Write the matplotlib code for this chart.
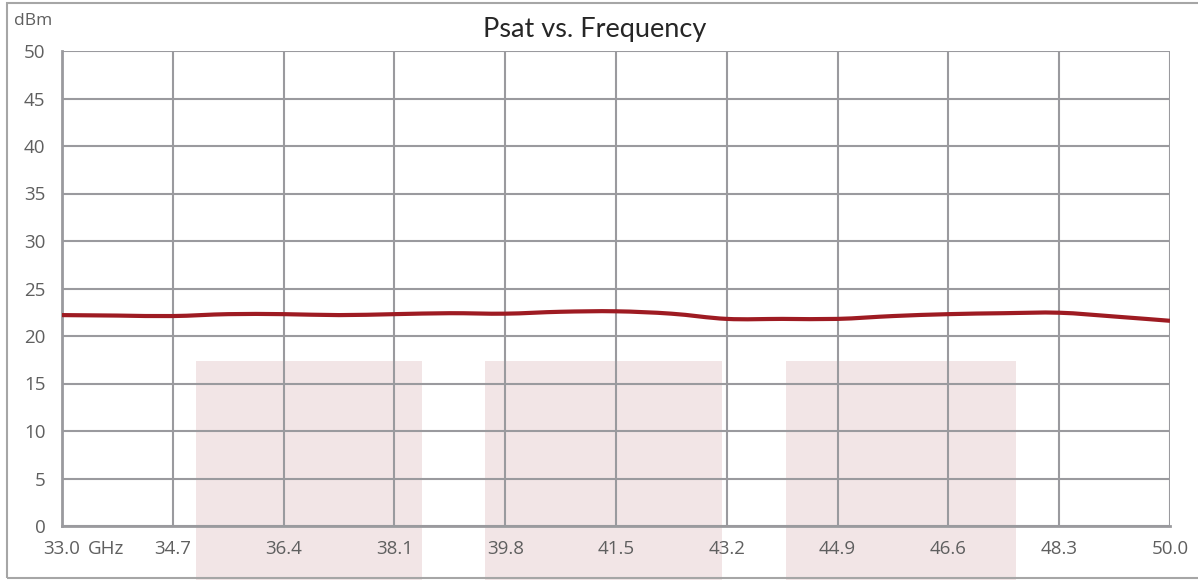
import numpy as np
import matplotlib.pyplot as plt
from matplotlib.patches import Rectangle, PathPatch
from matplotlib.path import Path

# Datos
freq = [33.0, 33.85, 34.7, 35.55, 36.4, 37.25, 38.1, 38.95, 39.8, 40.65, 41.5,
        42.35, 43.2, 44.05, 44.9, 45.75, 46.6, 47.45, 48.3, 49.15, 50.0]
psat = [22.2, 22.15, 22.1, 22.3, 22.3, 22.2, 22.3, 22.4, 22.35, 22.55, 22.6,
        22.35, 21.8, 21.8, 21.8, 22.1, 22.3, 22.4, 22.45, 22.05, 21.6]

xticks = [33.0, 34.7, 36.4, 38.1, 39.8, 41.5, 43.2, 44.9, 46.6, 48.3, 50.0]
xlabels = ['33.0', '34.7', '36.4', '38.1', '39.8', '41.5', '43.2', '44.9', '46.6', '48.3', '50.0']
yticks = [0, 5, 10, 15, 20, 25, 30, 35, 40, 45, 50]

# bandas rosadas (inicio, fin, altura)
bandas_ini = [35.06, 39.49, 44.11]
bandas_fin = [38.52, 43.13, 47.64]
banda_alto = 17.4

gris = '#9a9a9e'
texto = '#5f5f5f'

plt.rcParams['font.family'] = ['Open Sans', 'DejaVu Sans']


# Linea suavizada tipo Excel: curvas Bezier que pasan por los puntos
def camino_suave(x, y, t=1/6):
    x = np.asarray(x, float)
    y = np.asarray(y, float)
    verts = [(x[0], y[0])]
    codes = [Path.MOVETO]
    n = len(x)
    for i in range(n - 1):
        i0 = max(i - 1, 0)
        i3 = min(i + 2, n - 1)
        c1 = (x[i] + (x[i + 1] - x[i0]) * t, y[i] + (y[i + 1] - y[i0]) * t)
        c2 = (x[i + 1] - (x[i3] - x[i]) * t, y[i + 1] - (y[i3] - y[i]) * t)
        verts += [c1, c2, (x[i + 1], y[i + 1])]
        codes += [Path.CURVE4] * 3
    return Path(verts, codes)


fig = plt.figure(figsize=(11.98, 5.8), dpi=100)
ax = fig.add_axes([62/1198, 54/580, 1108/1198, 475/580])

for a, b in zip(bandas_ini, bandas_fin):
    ax.add_patch(Rectangle((a, -6), b - a, banda_alto + 6, facecolor='#f2e5e6',
                           edgecolor='none', zorder=0.4, clip_on=False))

ax.add_patch(PathPatch(camino_suave(freq, psat), facecolor='none', edgecolor='#9e1b22',
                       lw=3, zorder=3, capstyle='butt'))

ax.set_xlim(33.0, 50.0)
ax.set_ylim(0, 50)
ax.set_xticks(xticks)
ax.set_xticklabels(xlabels)
ax.set_yticks(yticks)
ax.grid(True, color=gris, lw=1.5)
for s in ['top', 'right']:
    ax.spines[s].set_visible(False)
for s in ['left', 'bottom']:
    ax.spines[s].set_color(gris)
    ax.spines[s].set_linewidth(2)
ax.tick_params(length=0, labelsize=13.5, labelcolor=texto)
ax.tick_params(axis='x', pad=10)
ax.tick_params(axis='y', pad=12)

fig.text(88/1198, 1 - 549/580, 'GHz', fontsize=13.5, color=texto, va='center', ha='left')
fig.text(14/1198, 1 - 21/580, 'dBm', fontsize=12.5, color=texto, va='center', ha='left')
fig.text(595/1198, 1 - 30/580, 'Psat vs. Frequency', fontsize=19.5, color='#262626',
         va='center', ha='center', family=['Lato', 'DejaVu Sans'])

# marco exterior
borde = Rectangle((7/1198, 2/580), 1.2, 575/580, transform=fig.transFigure,
                  fill=False, edgecolor='#a6a6a6', lw=1.5, zorder=10)
fig.add_artist(borde)

fig.savefig('out.png', dpi=100)
